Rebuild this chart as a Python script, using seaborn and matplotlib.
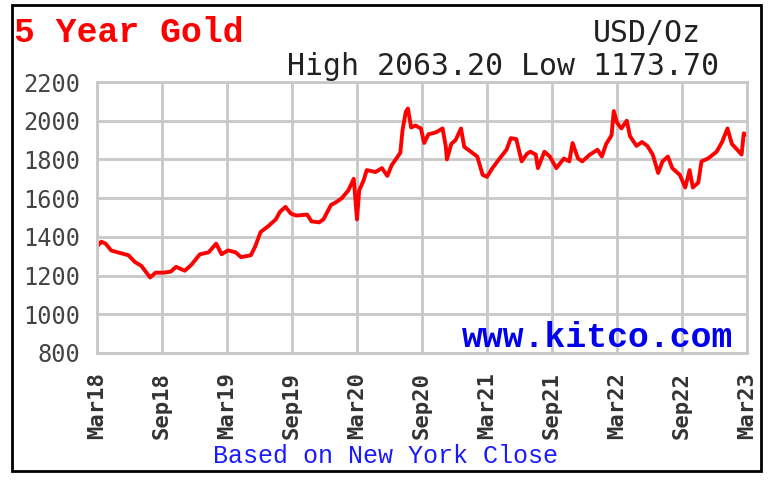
import numpy as np
import pandas as pd
import matplotlib
matplotlib.use("Agg")
import matplotlib.pyplot as plt
from matplotlib.patches import Rectangle
import seaborn as sns

# months since Mar 2018
months = [0.0, 0.4, 0.8, 1.3, 1.9, 2.9, 3.5, 4.1, 4.9, 5.4, 6.1, 6.8, 7.3, 8.1, 8.7,
          9.5, 10.3, 11.0, 11.5, 12.1, 12.8, 13.3, 14.2, 14.6, 15.1, 15.8, 16.5, 16.9,
          17.4, 17.9, 18.4, 19.4, 19.8, 20.5, 20.9, 21.6, 22.1, 22.6, 23.2, 23.7, 24.0,
          24.2, 24.6, 24.9, 25.7, 26.3, 26.8, 27.2, 27.7, 28.0, 28.2, 28.5, 28.7, 29.0,
          29.4, 29.9, 30.2, 30.6, 31.3, 31.9, 32.2, 32.3, 32.7, 33.1, 33.6, 33.9, 34.5,
          35.1, 35.6, 36.0, 36.5, 37.1, 37.8, 38.2, 38.7, 39.2, 39.7, 40.0, 40.5, 40.7,
          41.3, 41.8, 42.4, 43.1, 43.6, 43.9, 44.4, 44.8, 45.5, 46.2, 46.6, 47.0, 47.5,
          47.7, 48.0, 48.4, 48.9, 49.2, 49.8, 50.3, 50.8, 51.3, 51.8, 52.2, 52.7, 53.1,
          53.8, 54.3, 54.7, 55.0, 55.5, 55.8, 56.4, 57.2, 57.7, 58.2, 58.6, 59.1, 59.5,
          59.7, 60.0]
price = [1350, 1375, 1365, 1330, 1320, 1305, 1270, 1250, 1190, 1215, 1215, 1220, 1245, 1225, 1255,
         1310, 1320, 1365, 1310, 1330, 1320, 1295, 1305, 1350, 1425, 1455, 1490, 1530,
         1555, 1520, 1510, 1515, 1480, 1475, 1490, 1565, 1580, 1600, 1640, 1700, 1490,
         1640, 1690, 1745, 1735, 1755, 1715, 1770, 1810, 1835, 1950, 2045, 2063.2, 1965,
         1975, 1960, 1885, 1930, 1940, 1960, 1865, 1800, 1880, 1900, 1960, 1865, 1840,
         1815, 1720, 1710, 1755, 1800, 1850, 1910, 1905, 1790, 1830, 1840, 1825, 1755,
         1840, 1815, 1755, 1805, 1790, 1885, 1805, 1790, 1825, 1850, 1815, 1880, 1925,
         2050, 1990, 1960, 2000, 1920, 1870, 1890, 1870, 1825, 1730, 1790, 1815, 1755,
         1720, 1655, 1745, 1655, 1680, 1790, 1805, 1840, 1890, 1960, 1880, 1850, 1825,
         1935, 1925]

tick_months = [0, 6, 12, 18, 24, 30, 36, 42, 48, 54, 60]
tick_labels = ["Mar18", "Sep18", "Mar19", "Sep19", "Mar20", "Sep20",
               "Mar21", "Sep21", "Mar22", "Sep22", "Mar23"]
y_ticks = [800, 1000, 1200, 1400, 1600, 1800, 2000, 2200]

df = pd.DataFrame({"month": months, "price": price})

sns.set_style("white")
plt.rcParams['font.family'] = ['DejaVu Sans Mono', 'DejaVu Sans']

fig = plt.figure(figsize=(7.73, 4.8), dpi=100)
ax = fig.add_axes([97 / 773, 1 - 353 / 480, 650 / 773, 271 / 480])

sns.lineplot(data=df, x="month", y="price", ax=ax, color="#ff0000", linewidth=2.8)

ax.set_xlim(0, 60)
ax.set_ylim(800, 2200)
ax.set_xticks(tick_months)
ax.set_xticklabels(tick_labels, rotation=90, fontsize=16, fontweight="bold", color="#333333")
ax.set_yticks(y_ticks)
ax.set_yticklabels([str(v) for v in y_ticks], fontsize=17, color="#444444")
ax.tick_params(axis="both", length=0)
ax.tick_params(axis="y", pad=12)
ax.tick_params(axis="x", pad=14)
ax.set_xlabel("")
ax.set_ylabel("")
ax.grid(True, color="#c8c8c8", linewidth=2)
for s in ax.spines.values():
    s.set_color("#c8c8c8")
    s.set_linewidth(2)

# outer frame
fig.patches.append(Rectangle((12 / 773, 1 - 471 / 480), 749 / 773, 466 / 480,
                             transform=fig.transFigure, fill=False,
                             edgecolor="black", linewidth=2))

fig.text(14 / 773, 1 - 42 / 480, "5 Year Gold", family="Liberation Mono",
         fontweight="bold", fontsize=25, color="#ff0000", va="baseline")
fig.text(593 / 773, 1 - 42 / 480, "USD/Oz", fontsize=21.5, color="#222222", va="baseline")
fig.text(287 / 773, 1 - 75 / 480, "High 2063.20 Low 1173.70", fontsize=21.5,
         color="#222222", va="baseline")
fig.text(462 / 773, 1 - 347 / 480, "www.kitco.com", family="Liberation Mono",
         fontweight="bold", fontsize=25, color="#0000ee", va="baseline")
fig.text(213 / 773, 1 - 463 / 480, "Based on New York Close", family="Liberation Mono",
         fontsize=18, color="#1a1aff", va="baseline")

fig.savefig("out.png", dpi=100)
